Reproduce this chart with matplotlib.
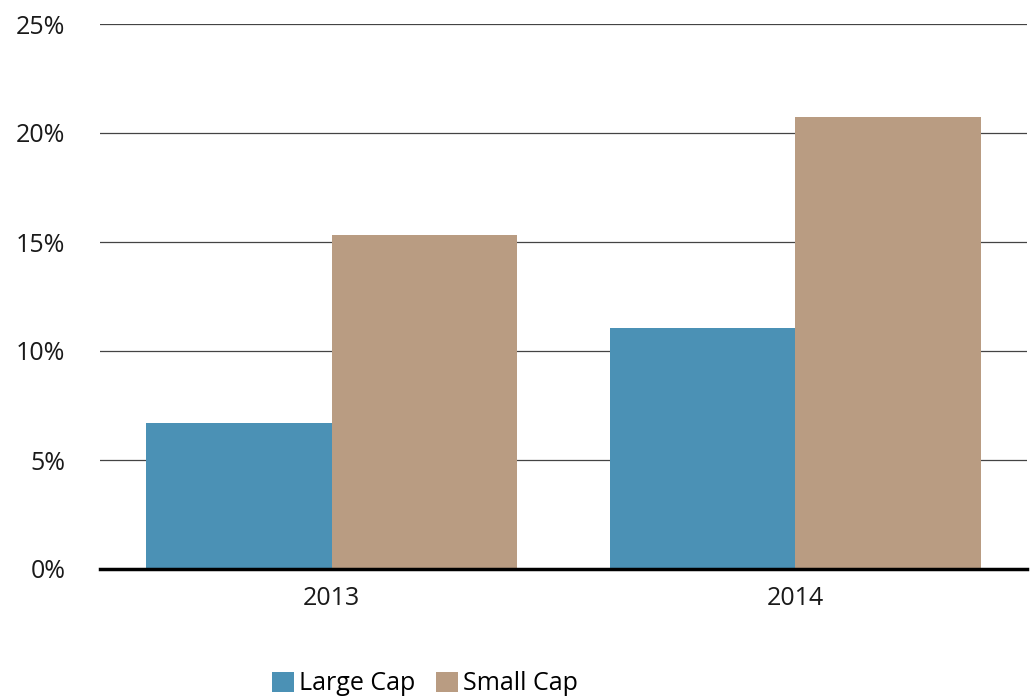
import matplotlib
matplotlib.use("Agg")
import matplotlib.pyplot as plt
import numpy as np

categories = ["2013", "2014"]
large_cap = [6.7, 11.05]
small_cap = [15.3, 20.75]
series_names = ["Large Cap", "Small Cap"]
colors = ["#4b91b5", "#b99c82"]
y_ticks = [0, 5, 10, 15, 20, 25]

plt.rcParams['font.family'] = ['Open Sans', 'DejaVu Sans']

fig = plt.figure(figsize=(10.36, 6.98), dpi=100)
ax = fig.add_axes([100/1036, 1-569/698, 927/1036, 545/698])

x = np.arange(len(categories))
w = 0.4
b1 = ax.bar(x - w/2, large_cap, w, color=colors[0], label=series_names[0], zorder=2)
b2 = ax.bar(x + w/2, small_cap, w, color=colors[1], label=series_names[1], zorder=2)

ax.set_xlim(-0.5, 1.5)
ax.set_ylim(0, 25)
ax.set_yticks(y_ticks)
ax.set_yticklabels([f"{t}%" for t in y_ticks])
ax.set_xticks(x)
ax.set_xticklabels(categories)
for t in y_ticks[1:]:
    ax.axhline(t, color="#444444", lw=0.9, zorder=1)
ax.axhline(0, color="black", lw=2.5, zorder=3, clip_on=False)

for s in ax.spines.values():
    s.set_visible(False)
ax.tick_params(axis='both', length=0, labelsize=18, colors="#1a1a1a")
ax.tick_params(axis='y', pad=25)
ax.tick_params(axis='x', pad=12)

leg = fig.legend(handles=[b1, b2], labels=series_names, loc="center",
                 bbox_to_anchor=(425/1036, 1-684/698), ncol=2, frameon=False,
                 fontsize=18, handlelength=0.9, handleheight=0.9, handletextpad=0.2,
                 columnspacing=0.8)

fig.savefig("out.png", dpi=100)
